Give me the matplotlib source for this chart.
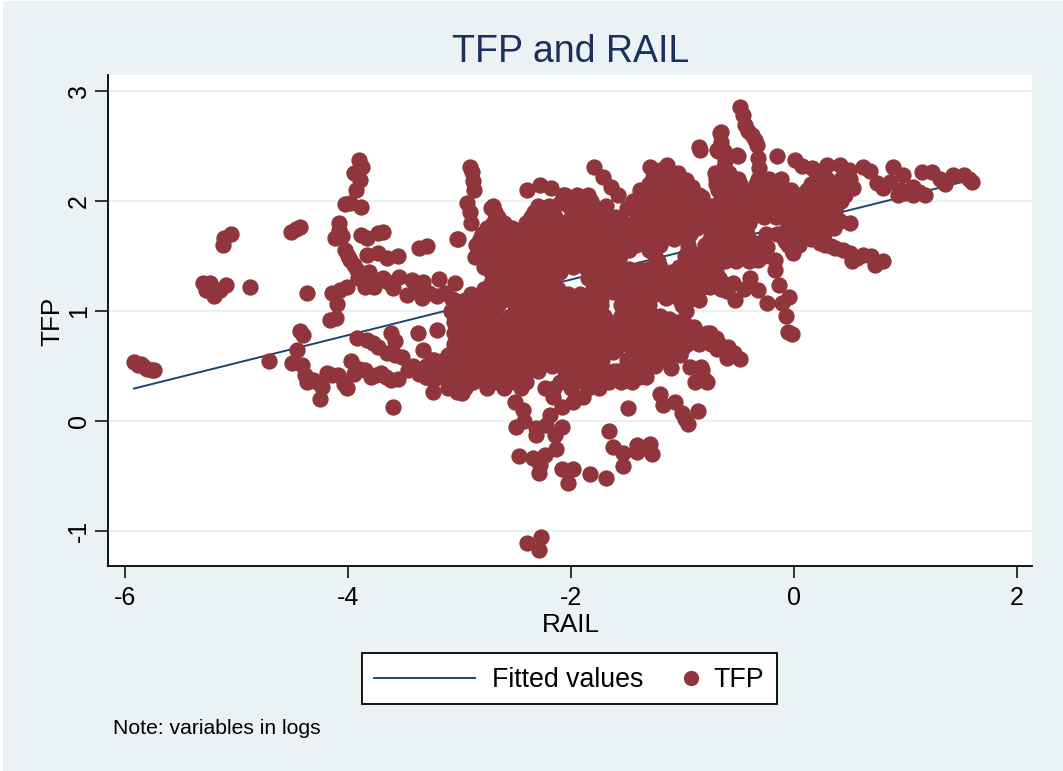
import matplotlib
matplotlib.use('Agg')
from matplotlib import pyplot as plt
from matplotlib.lines import Line2D
from matplotlib.patches import Rectangle
import numpy as np

plt.rcParams['font.family'] = ['Liberation Sans', 'DejaVu Sans']

# fitted line
fit_rail = [-5.92, 1.62]
fit_tfp = [0.295, 2.2]

# outlying tracks, left side (rail, tfp)
left_points = [
    (-5.92, .54), (-5.88, .51), (-5.86, .52), (-5.84, .50), (-5.80, .47), (-5.76, .46), (-5.74, .46),
    (-5.30, 1.25), (-5.24, 1.25), (-5.27, 1.19), (-5.20, 1.14), (-5.15, 1.19), (-5.09, 1.24),
    (-5.125, 1.60), (-5.11, 1.66), (-5.05, 1.70), (-4.88, 1.22),
    (-4.51, 1.72), (-4.47, 1.745), (-4.43, 1.76), (-4.37, 1.16), (-4.71, .545),
    (-4.165, .92), (-4.11, .935), (-4.14, 1.16), (-4.10, 1.06), (-4.01, 1.22), (-4.07, 1.19),
    (-4.43, .82), (-4.40, .78), (-4.46, .645), (-4.50, .53), (-4.41, .51), (-4.39, .42), (-4.37, .355),
    (-4.31, .37), (-4.25, .20), (-4.23, .31), (-4.19, .435), (-4.09, .42), (-4.01, .30), (-4.04, .34),
    (-3.97, .545), (-3.95, .43), (-3.85, .465), (-3.79, .40), (-3.70, .435), (-3.61, .37), (-3.55, .385),
    (-3.60, .13),
    (-3.90, 2.37), (-3.87, 2.31), (-3.95, 2.25), (-3.89, 2.19), (-3.93, 2.10), (-4.03, 1.97), (-3.88, 1.945),
    (-3.98, 1.98), (-4.08, 1.80), (-4.12, 1.66), (-4.05, 1.68), (-4.03, 1.55), (-3.98, 1.46), (-3.92, 1.37),
    (-3.91, 1.30), (-3.85, 1.22), (-3.77, 1.22), (-3.81, 1.35), (-3.69, 1.30), (-3.60, 1.21), (-3.47, 1.145),
    (-3.54, 1.31), (-3.43, 1.28), (-3.33, 1.26), (-3.34, 1.12), (-3.18, 1.29), (-3.04, 1.25), (-3.20, 1.14),
    (-3.07, 1.11), (-3.88, 1.69), (-3.83, 1.66), (-3.69, 1.72), (-3.73, 1.71), (-3.36, 1.57), (-3.29, 1.59),
    (-3.83, 1.51), (-3.73, 1.53), (-3.65, 1.48), (-3.55, 1.50), (-3.02, 1.65),
    (-3.92, .75), (-3.83, .74), (-3.73, .67), (-3.65, .62), (-3.52, .58), (-3.46, .46), (-3.36, .43),
    (-3.24, .37), (-3.24, .26), (-3.61, .80), (-3.58, .73), (-3.37, .80), (-3.33, .645), (-3.20, .83),
    (-3.23, .55), (-3.02, .26), (-3.10, .42),
    (-4.08, 1.74), (-4.0, 1.5), (-3.95, 1.42), (-3.76, 1.28), (-3.64, 1.26), (-3.39, 1.2), (-3.27, 1.16),
    (-3.13, 1.16), (-3.78, .71), (-3.58, .6), (-3.42, .5), (-3.3, .4), (-3.9, .47), (-3.75, .42),
    (-4.14, .42), (-4.28, .35), (-3.66, .4),
]

# tracks above the central cloud
top_points = [
    (-2.91, 2.31), (-2.89, 2.26), (-2.87, 2.10), (-2.93, 1.98), (-2.90, 1.80), (-2.88, 2.18), (-2.91, 1.90),
    (-2.72, 1.94), (-2.67, 1.86), (-2.58, 1.76), (-3.01, 1.65), (-2.86, 1.49), (-2.78, 1.40),
    (-2.39, 2.10), (-2.28, 2.145), (-2.18, 2.12), (-2.07, 2.05), (-2.10, 1.98),
    (-1.79, 2.31), (-1.71, 2.22), (-1.64, 2.13), (-1.58, 2.05),
    (-1.29, 2.31), (-1.14, 2.33), (-1.04, 2.25), (-1.26, 2.22), (-.91, 2.13), (-.82, 2.04), (-1.38, 2.05),
    (-.85, 2.49), (-.845, 2.46), (-.665, 2.62), (-.68, 2.45), (-.51, 2.42), (-.71, 2.25), (-.58, 2.25),
    (-.485, 2.85), (-.46, 2.78), (-.44, 2.69), (-.38, 2.60), (-.33, 2.51), (-.32, 2.39),
    (-.655, 2.63), (-.65, 2.54), (-.69, 2.46), (-.63, 2.45), (-.62, 2.36), (-.50, 2.41), (-.15, 2.41),
    (-.31, 2.30), (-.41, 2.64), (-.35, 2.55), (-.63, 2.31), (-1.2, 2.28), (-.97, 2.19),
]

# tracks to the right
right_points = [
    (.01, 2.37), (.07, 2.32), (.16, 2.30), (.30, 2.33), (.41, 2.33), (.26, 2.28), (.49, 2.28), (.45, 2.20),
    (.53, 2.12), (.39, 1.99), (.42, 2.00), (.50, 1.80), (.41, 1.82),
    (.62, 2.31), (.68, 2.27), (.745, 2.16), (.86, 2.17), (.93, 2.05), (.89, 2.31), (.98, 2.24), (1.07, 2.13),
    (1.07, 2.05), (1.18, 2.05), (1.15, 2.26), (1.24, 2.26), (1.36, 2.15), (1.31, 2.20), (1.43, 2.24),
    (1.53, 2.24), (1.60, 2.17), (1.57, 2.20), (.80, 2.12), (1.00, 2.07),
    (.23, 1.62), (.37, 1.57), (.52, 1.45), (.50, 1.53), (.62, 1.51), (.73, 1.42), (.80, 1.45), (.69, 1.50),
    (.28, 1.60), (-.01, 1.53), (-.08, 1.64), (.05, 1.62),
    (-.13, 1.24), (-.04, 1.13), (-.11, 1.07), (-.07, .95), (-.02, .79), (-.05, .81),
    (-.32, 1.46), (-.24, 1.58), (-.17, 1.37), (-.17, 1.46), (-.24, 1.07), (-.32, 1.19), (-.39, 1.30),
    (-.53, 1.10), (-.45, 1.20), (-.55, 1.25), (-.66, 1.28), (-.60, 1.18), (-.78, 1.28), (-.84, 1.20),
    (-.78, .80), (-.75, .71), (-.69, .65), (-.59, .67), (-.54, .62), (-.485, .565), (-.60, .57),
    (-.83, .49), (-.80, .37), (.96, 2.1), (1.12, 2.08), (.33, 1.59), (.44, 1.55), (.57, 1.48),
]

# tail below the central cloud
bottom_points = [
    (-2.47, -.32), (-2.34, -.34), (-2.235, -.31), (-2.13, -.25), (-2.28, -.40), (-2.29, -.47),
    (-2.08, -.44), (-1.98, -.44), (-2.03, -.565), (-1.83, -.48), (-1.69, -.52),
    (-1.66, -.09), (-1.62, -.24), (-1.535, -.29), (-1.535, -.41), (-1.41, -.22), (-1.29, -.21), (-1.27, -.30),
    (-1.41, -.28), (-1.49, .12), (-1.20, .245), (-1.17, .145), (-1.07, .17), (-1.00, .07), (-.95, -.03),
    (-.98, .02), (-.86, .09),
    (-2.39, -1.11), (-2.27, -1.05), (-2.29, -1.17),
    (-2.49, -.055), (-2.42, .0), (-2.31, -.13), (-2.31, -.06), (-2.22, -.04), (-2.145, -.13), (-2.08, -.05),
    (-2.19, .05), (-2.43, .10), (-2.50, .17), (-2.23, .30), (-2.16, .22), (-2.08, .13), (-1.98, .17),
    (-1.89, .22), (-2.98, .25), (-.93, .49), (-.82, .46), (-.89, .355), (-.78, .355), (-1.10, .48), (-1.20, .55),
]

# points closing the remaining gaps in the cloud
gap_points = [
    (-1.48, 1.38), (-1.38, 1.38), (-1.3, 1.38), (-1.1, 1.35), (-1.45, 1.28), (-1.12, 1.26), (-1.08, 1.2),
    (-1.15, 1.12), (-1.62, 1.17), (-.85, 1.1), (-.88, 1.2), (-.75, 1.22), (-.65, 1.2), (-1.12, .93),
    (-1.05, .9), (-.98, .88), (-1.1, .62), (-1.02, .6), (-1.12, .7), (-1.58, .45), (-1.2, .62), (-1.62, .63),
    (-.95, 1.6), (-.9, 1.52), (-.35, 1.62), (-.25, 1.7), (-.15, 1.7), (-.32, 1.9), (-1.5, 1.94), (-1.55, 1.83),
]

tfp_rows = [2.2, 2.1, 2.0, 1.9, 1.8, 1.7, 1.6, 1.5, 1.4, 1.3, 1.2, 1.1, 1.0, .9, .8, .7, .6, .5, .4, .3]
rail_rows = [
    [-1.2, -1.09, -.7, -.6, -.5, -.32, -.22, -.12, .2, .3, .42, .5],
    [-1.38, -1.27, -1.16, -1.05, -.94, -.68, -.58, -.5, -.36, -.25, -.14, -.03, .12, .23, .34, .45],
    [-2.04, -1.93, -1.82, -1.44, -1.33, -1.22, -1.11, -1.0, -.89, -.66, -.55, -.44, -.33, -.22, -.11, 0, .11, .22, .33, .4],
    [-2.68, -2.33, -2.22, -1.95, -1.84, -1.73, -1.42, -1.31, -1.2, -1.09, -.98, -.87, -.76, -.65, -.54, -.43, -.32, -.21, -.1, .01, .12, .23, .3],
    [-2.7, -2.6, -2.4, -2.29, -2.18, -2.07, -1.96, -1.85, -1.74, -1.63, -1.43, -1.32, -1.21, -1.1, -.99, -.88, -.77, -.66, -.55, -.44, -.4, -.04, .07, .18, .29, .38],
    [-2.8, -2.69, -2.58, -2.47, -2.36, -2.25, -2.14, -2.03, -1.92, -1.81, -1.7, -1.59, -1.48, -1.37, -1.26, -1.15, -1.04, -.93, -.7, -.6, -.5, -.42, -.06, .05, .16, .27],
    [-2.85, -2.74, -2.63, -2.52, -2.41, -2.3, -2.19, -2.08, -1.97, -1.86, -1.75, -1.64, -1.53, -1.42, -1.31, -1.2, -.8, -.7, -.6, -.5, -.4, -.05, .05],
    [-2.8, -2.69, -2.58, -2.47, -2.36, -2.25, -2.14, -2.03, -1.92, -1.81, -1.7, -1.56, -1.25, -.98, -.85, -.75, -.65, -.55, -.45, -.34, -.27],
    [-2.75, -2.64, -2.53, -2.42, -2.31, -2.2, -2.09, -1.98, -1.87, -1.76, -1.65, -1.6, -1.2, -1.03, -.92, -.8],
    [-2.7, -2.59, -2.48, -2.37, -2.26, -2.15, -1.85, -1.74, -1.63, -1.52, -1.41, -1.3, -1.2, -1.0, -.89, -.78, -.67],
    [-2.78, -2.67, -2.56, -2.45, -2.34, -2.23, -2.12, -1.8, -1.69, -1.58, -1.47, -1.36, -1.25, -1.15, -.95],
    [-3.05, -2.95, -2.85, -2.72, -2.61, -2.5, -2.39, -2.28, -2.17, -2.06, -1.95, -1.84, -1.73, -1.52, -1.4, -1.3, -1.02, -.95],
    [-3.08, -2.97, -2.86, -2.75, -2.68, -2.4, -2.29, -2.18, -2.07, -1.96, -1.85, -1.74, -1.5, -1.4, -1.3, -.97],
    [-3.05, -2.94, -2.75, -2.64, -2.53, -2.42, -2.31, -2.2, -2.09, -1.98, -1.87, -1.76, -1.65, -1.54, -1.43, -1.32, -1.2],
    [-3.05, -2.95, -2.8, -2.52, -2.41, -2.3, -2.19, -2.08, -1.97, -1.86, -1.75, -1.64, -1.53, -1.42, -1.31, -1.2, -1.09, -.98, -.87, -.75],
    [-3.05, -2.94, -2.83, -2.72, -2.61, -2.5, -2.39, -2.28, -2.17, -2.06, -1.95, -1.84, -1.73, -1.62, -1.51, -1.4, -1.29, -1.18, -1.07, -.96, -.85, -.74, -.67],
    [-3.1, -2.99, -2.88, -2.77, -2.66, -2.55, -2.44, -2.33, -2.22, -2.11, -2.0, -1.89, -1.78, -1.72, -1.45, -1.33, -1.2],
    [-3.3, -3.2, -3.05, -2.94, -2.83, -2.72, -2.61, -2.5, -2.39, -2.28, -2.17, -2.06, -1.95, -1.84, -1.72, -1.45, -1.35, -1.25],
    [-3.3, -3.19, -3.08, -2.97, -2.86, -2.75, -2.64, -2.53, -2.42, -2.05, -1.94, -1.83, -1.72, -1.61, -1.5, -1.39, -1.33],
    [-3.1, -2.95, -2.75, -2.6, -2.45, -2.15, -2.0, -1.85, -1.75],
]

# the rows lying between those above
tfp_half_rows = [2.15, 2.05, 1.95, 1.85, 1.75, 1.65, 1.55, 1.45, 1.35, 1.25, 1.15, 1.05, .95, .85, .75, .65, .55, .45, .35]
rail_half_rows = [
    [-1.3, -1.2, -1.08, -.7, -.6, -.48, -.34, -.23, -.12, .15, .27, .38, .48],
    [-2.05, -1.95, -1.85, -1.38, -1.27, -1.16, -1.05, -.94, -.85, -.62, -.51, -.4, -.29, -.18, -.07, .05, .16, .27, .38, .46],
    [-2.7, -2.3, -2.2, -2.02, -1.91, -1.8, -1.69, -1.4, -1.29, -1.18, -1.07, -.96, -.85, -.74, -.6, -.49, -.38, -.27, -.16, -.05, .06, .17, .28, .38],
    [-2.65, -2.36, -2.25, -2.14, -2.0, -1.9, -1.79, -1.68, -1.6, -1.38, -1.27, -1.16, -1.05, -.94, -.83, -.72, -.6, -.49, -.38, -.27, -.16, -.05, .06, .17, .28, .38],
    [-2.75, -2.64, -2.53, -2.42, -2.31, -2.2, -2.09, -1.98, -1.87, -1.76, -1.65, -1.58, -1.42, -1.31, -1.2, -1.09, -.98, -.87, -.76, -.65, -.54, -.43, -.06, .05, .16, .27, .36],
    [-2.82, -2.71, -2.6, -2.49, -2.38, -2.27, -2.16, -2.05, -1.94, -1.83, -1.72, -1.61, -1.5, -1.39, -1.28, -1.17, -1.08, -.75, -.65, -.55, -.45, -.05, .05, .15],
    [-2.8, -2.69, -2.58, -2.47, -2.36, -2.25, -2.14, -2.03, -1.92, -1.81, -1.7, -1.59, -1.48, -1.3, -.95, -.8, -.7, -.6, -.5, -.42, -.02],
    [-2.78, -2.67, -2.56, -2.45, -2.34, -2.23, -2.12, -2.01, -1.9, -1.79, -1.68, -1.6, -1.22, -.95, -.85, -.72, -.62, -.52, -.4],
    [-2.72, -2.61, -2.5, -2.39, -2.28, -2.17, -2.1, -1.8, -1.69, -1.58, -1.47, -1.36, -1.25, -1.0, -.9, -.8, -.7],
    [-2.72, -2.61, -2.5, -2.39, -2.28, -2.17, -1.8, -1.69, -1.58, -1.47, -1.36, -1.25, -.98, -.88, -.74],
    [-2.9, -2.8, -2.69, -2.58, -2.47, -2.36, -2.25, -2.14, -2.03, -1.92, -1.81, -1.75, -1.55, -1.45, -1.35, -1.25, -1.0],
    [-3.0, -2.9, -2.8, -2.65, -2.5, -2.39, -2.28, -2.17, -2.06, -1.95, -1.84, -1.73, -1.55, -1.4, -1.3, -1.0],
    [-3.05, -2.94, -2.83, -2.7, -2.55, -2.44, -2.33, -2.22, -2.11, -2.0, -1.89, -1.78, -1.7, -1.55, -1.45, -1.35, -1.2],
    [-3.0, -2.85, -2.7, -2.59, -2.48, -2.37, -2.26, -2.15, -2.04, -1.93, -1.82, -1.71, -1.6, -1.49, -1.38, -1.27, -1.16, -1.05, -.9],
    [-3.0, -2.89, -2.78, -2.67, -2.56, -2.45, -2.34, -2.23, -2.12, -2.01, -1.9, -1.79, -1.68, -1.57, -1.46, -1.35, -1.24, -1.13, -1.02, -.91, -.8, -.7],
    [-3.05, -2.94, -2.83, -2.72, -2.61, -2.5, -2.39, -2.28, -2.17, -2.06, -1.95, -1.84, -1.7, -1.6, -1.45, -1.34, -1.2, -1.0],
    [-3.25, -3.14, -3.03, -2.92, -2.81, -2.7, -2.59, -2.48, -2.37, -2.26, -2.15, -2.04, -1.93, -1.82, -1.72, -1.5, -1.4, -1.3],
    [-3.25, -3.14, -3.03, -2.92, -2.81, -2.7, -2.59, -2.48, -2.4, -2.3, -2.05, -1.94, -1.83, -1.72, -1.61, -1.5, -1.35],
    [-3.1, -2.99, -2.88, -2.77, -2.66, -2.55, -2.44, -2.4, -2.1, -1.99, -1.88, -1.77, -1.66, -1.55, -1.45],
]

x_ticks = [-6, -4, -2, 0, 2]
y_ticks = [-1, 0, 1, 2, 3]

bg_color = '#EAF2F3'
navy = '#1A476F'
maroon = '#90353B'

cloud = [(r, t) for t, row in zip(tfp_rows, rail_rows) for r in row]
cloud_half = [(r, t) for t, row in zip(tfp_half_rows, rail_half_rows) for r in row]
points = np.array(left_points + top_points + right_points + bottom_points + gap_points + cloud + cloud_half)


def fx(px):
    return px / 1063


def fy(py):
    return 1 - py / 771


fig = plt.figure(figsize=(10.63, 7.71), dpi=100, facecolor='white')
# reference has a thin white strip down the left edge
fig.add_artist(Rectangle((fx(3), 0), 1 - fx(3), fy(1), transform=fig.transFigure, facecolor=bg_color,
                         edgecolor='none', zorder=-1))
ax = fig.add_axes([fx(108), fy(566), fx(1032 - 108), (566 - 75) / 771])

ax.plot(fit_rail, fit_tfp, color=navy, lw=1.4, zorder=2)
ax.scatter(points[:, 0], points[:, 1], s=138, color=maroon, linewidths=0, zorder=3)

ax.set_xlim(-6.153, 2.136)
ax.set_ylim(-1.318, 3.145)
ax.set_xticks(x_ticks)
ax.set_yticks(y_ticks)
ax.set_xticklabels([str(v) for v in x_ticks])
ax.set_yticklabels([str(v) for v in y_ticks], rotation=90, va='center')
ax.tick_params(axis='x', labelsize=18, length=8.6, width=1.1, pad=6)
ax.tick_params(axis='y', labelsize=18, length=9.4, width=1.1, pad=3)
ax.grid(axis='y', color=bg_color, lw=1.6, zorder=0)
ax.set_axisbelow(True)
ax.spines['top'].set_visible(False)
ax.spines['right'].set_visible(False)
ax.spines['left'].set_linewidth(1.3)
ax.spines['bottom'].set_linewidth(1.3)

fig.text(fx(571), fy(52), 'TFP and RAIL', fontsize=27, color='#1C2F5E', ha='center', va='center')
fig.text(fx(571), fy(625), 'RAIL', fontsize=18.8, ha='center', va='center')
fig.text(fx(52), fy(321), 'TFP', fontsize=18.8, rotation=90, ha='center', va='center')
fig.text(fx(113), fy(728), 'Note: variables in logs', fontsize=15.2, ha='left', va='center')

# legend box, placed by hand since the two keys have different widths
fig.add_artist(Rectangle((fx(362), fy(704)), fx(777 - 362), (704 - 653) / 771, transform=fig.transFigure,
                         facecolor='white', edgecolor='black', lw=1.3))
fig.add_artist(Line2D([fx(374), fx(475)], [fy(678), fy(678)], color=navy, lw=1.4))
fig.add_artist(Line2D([fx(691)], [fy(678)], marker='o', ms=11, color=maroon, mew=0, ls='none'))
fig.text(fx(492), fy(680), 'Fitted values', fontsize=19.3, ha='left', va='center')
fig.text(fx(713), fy(680), 'TFP', fontsize=19.3, ha='left', va='center')

fig.savefig('out.png', dpi=100, facecolor='white')
